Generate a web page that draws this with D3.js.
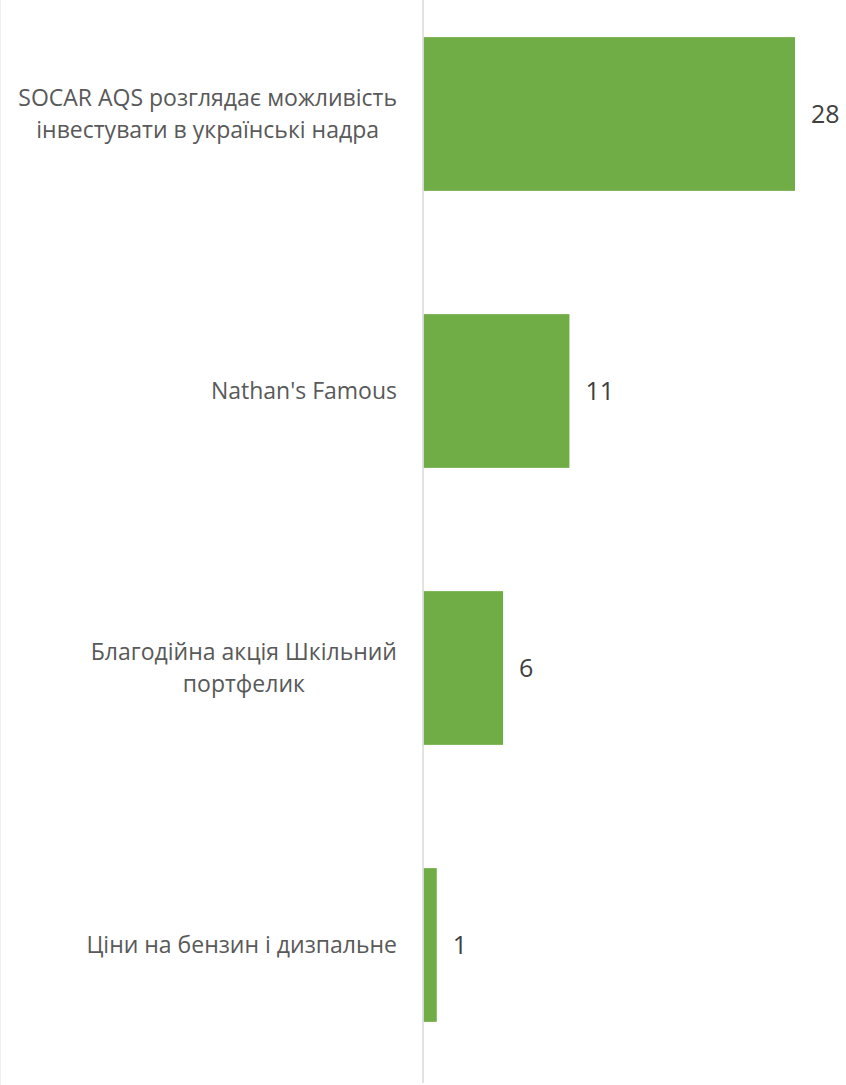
<!DOCTYPE html>
<html><head><meta charset="utf-8">
<script src="https://cdn.jsdelivr.net/npm/d3@7"></script>
<style>html,body{margin:0;padding:0;background:#fff;}svg{display:block;}</style>
</head><body>
<svg id="c" width="846" height="1085"></svg>
<script>
const categories = [
  ["SOCAR AQS розглядає можливість", "інвестувати в українські надра"],
  ["Nathan's Famous"],
  ["Благодійна акція Шкільний", "портфелик"],
  ["Ціни на бензин і дизпальне"]
];
const values = [28, 11, 6, 1];

const svg = d3.select("#c");
const W = 846, H = 1085;
const x0 = 423.5;
const x = d3.scaleLinear().domain([0, 28]).range([x0, 795]);
const y = d3.scaleBand().domain(d3.range(values.length)).range([-24.5, 1083.5]).paddingInner(0.445).paddingOuter(0.2225);

svg.append("line").attr("x1", 0.5).attr("x2", 0.5).attr("y1", 0).attr("y2", H)
  .attr("stroke", "#eeeeee").attr("stroke-width", 1);

svg.selectAll("rect.bar").data(values).join("rect").attr("class", "bar")
  .attr("x", x(0)).attr("y", (d, i) => y(i)).attr("width", d => x(d) - x(0))
  .attr("height", y.bandwidth()).attr("fill", "#70ad47");

svg.append("line").attr("x1", x0 - 0.5).attr("x2", x0 - 0.5).attr("y1", 0).attr("y2", 1083)
  .attr("stroke", "#d9d9d9").attr("stroke-width", 1.5);

const fontFam = "'Open Sans', sans-serif";
const catSize = 23, lineH = 32;
categories.forEach((lines, i) => {
  const cy = y(i) + y.bandwidth() / 2;
  const g = svg.append("g");
  const texts = lines.map((t, k) => g.append("text")
    .attr("font-family", fontFam).attr("font-size", catSize).attr("fill", "#595959")
    .attr("text-anchor", "middle")
    .attr("y", cy + (k - (lines.length - 1) / 2) * lineH)
    .attr("dy", "0.35em").text(t));
  const maxW = d3.max(texts, t => t.node().getComputedTextLength());
  texts.forEach(t => t.attr("x", 397 - maxW / 2));
});

svg.selectAll("text.val").data(values).join("text").attr("class", "val")
  .attr("x", d => x(d) + 16).attr("y", (d, i) => y(i) + y.bandwidth() / 2)
  .attr("dy", "0.35em").attr("font-family", fontFam).attr("font-size", 25)
  .attr("fill", "#404040").text(d => d);
</script>
</body></html>
